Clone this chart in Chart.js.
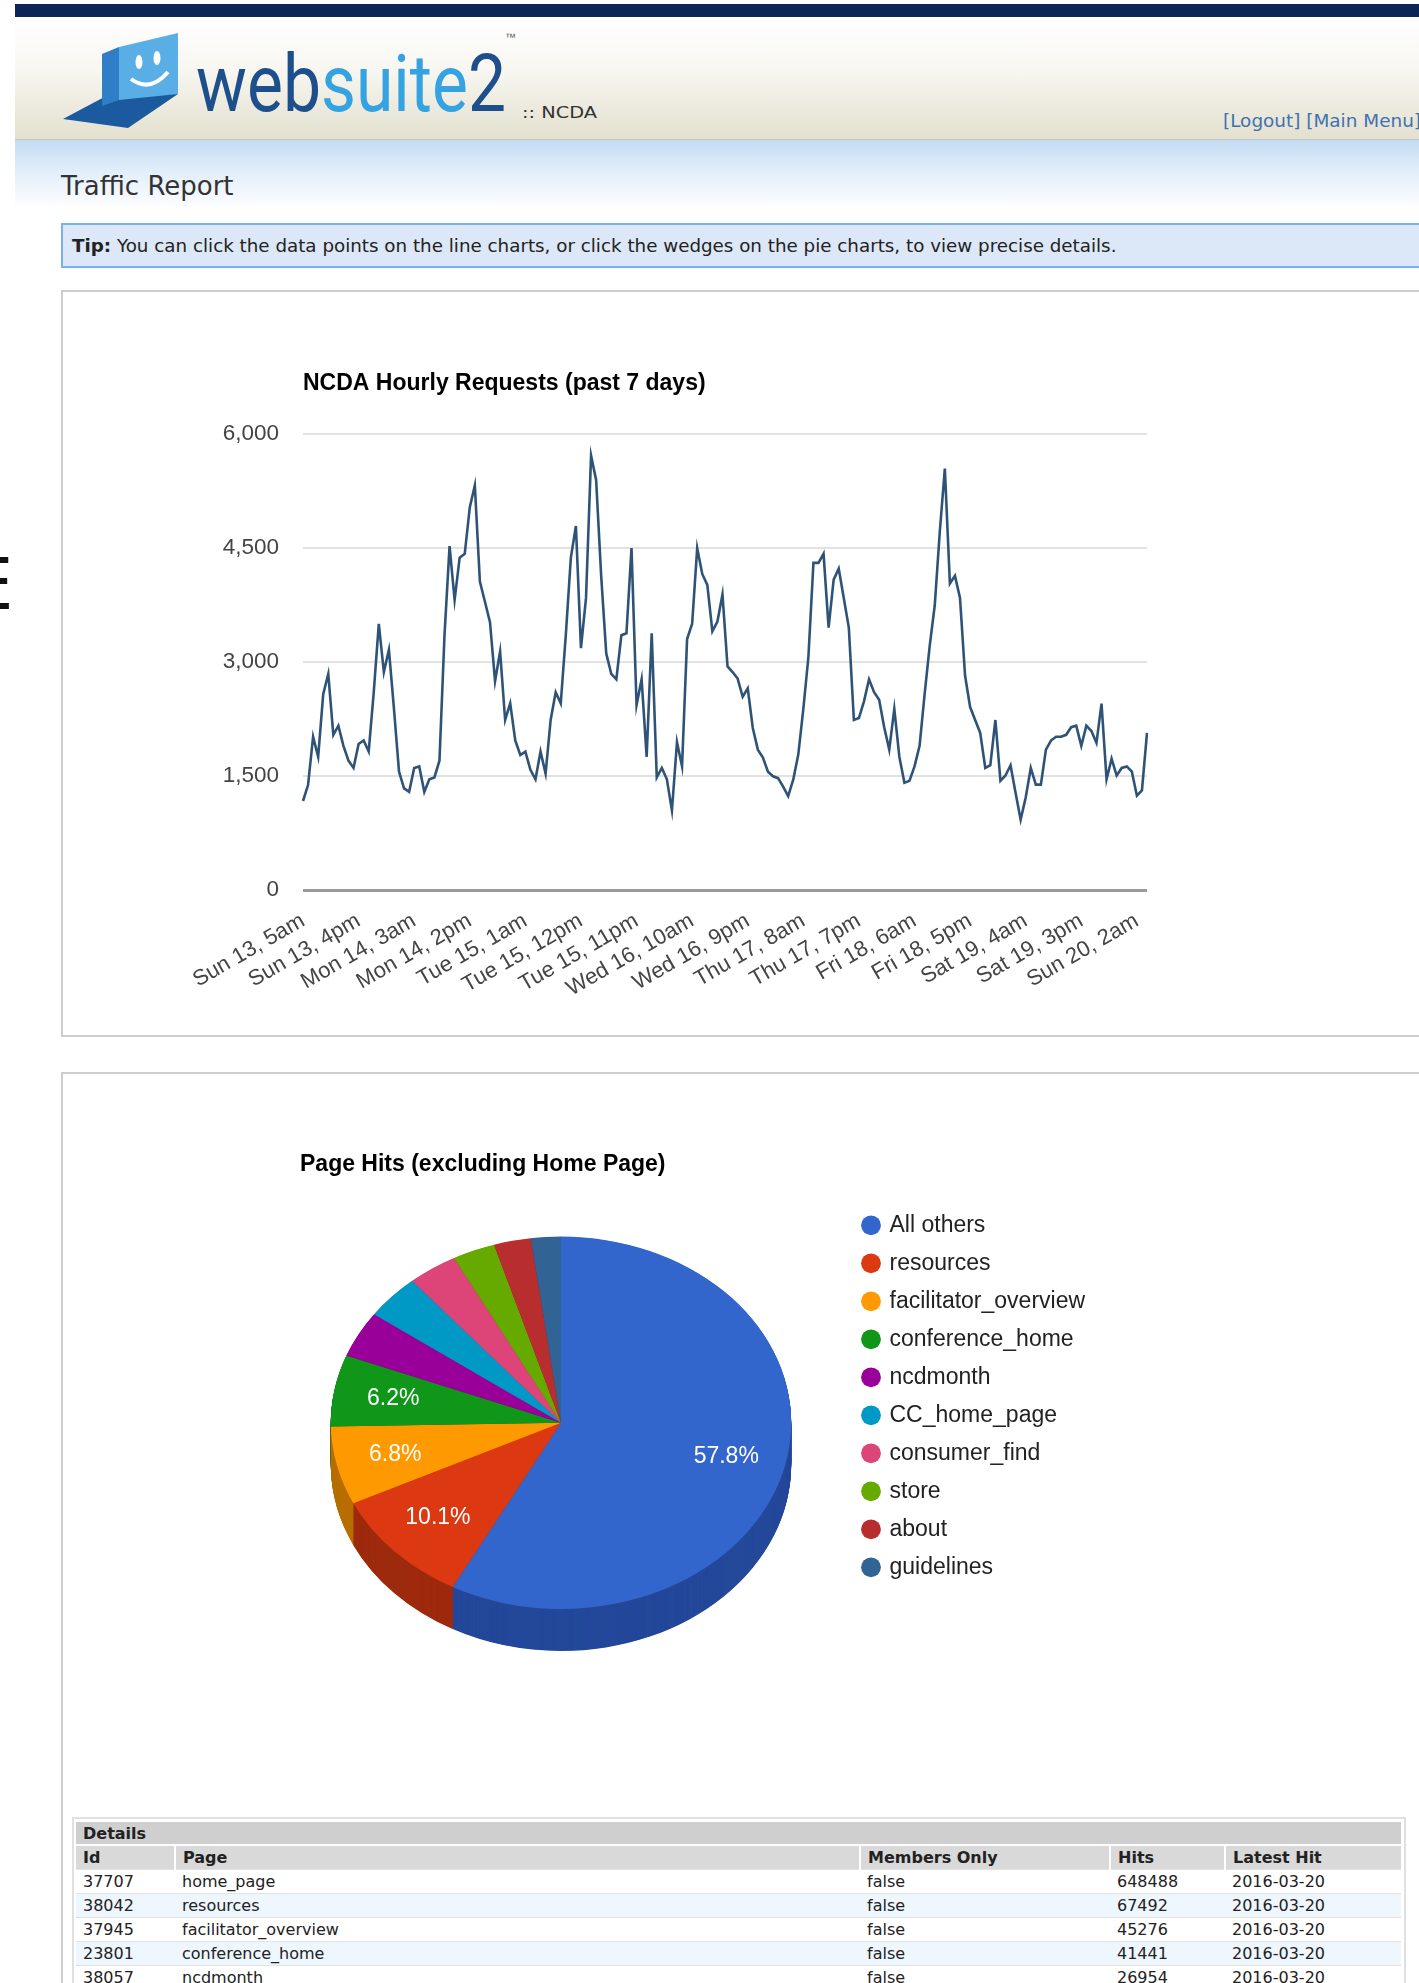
<!DOCTYPE html>
<html>
<head>
<meta charset="utf-8">
<title>Traffic Report</title>
<script src="https://cdn.jsdelivr.net/npm/chart.js@4.4.1/dist/chart.umd.min.js"></script>
<style>
  html, body { margin: 0; padding: 0; }
  body { width: 1419px; height: 1983px; overflow: hidden; position: relative; background: #fff;
         font-family: "DejaVu Sans", Verdana, sans-serif; color: #222; }
  .abs { position: absolute; }
  #topbar { left: 15px; top: 4px; width: 1404px; height: 13px; background: #0b2557; }
  #header { left: 15px; top: 17px; width: 1404px; height: 122px;
            background: linear-gradient(#ffffff 0%, #f7f6f0 45%, #e3e0cf 100%); border-bottom: 1px solid #c3c6c6; }
  #band { left: 15px; top: 140px; width: 1404px; height: 70px;
          background: linear-gradient(#c3dbf2 0%, #e2eefa 45%, #ffffff 100%); }
  #edge { left: -32px; top: 548px; font-size: 72px; line-height: 72px; color: #111; }
  #pageTitle { left: 61px; top: 172px; font-size: 26px; line-height: 28px; color: #333; }
  #tip { left: 61px; top: 223px; width: 1400px; height: 45px; box-sizing: border-box; border: 2px solid #78b2ea;
         background: #dce8f7; font-size: 18.3px; line-height: 41px; padding-left: 9px; white-space: nowrap; }
  .panel { left: 61px; width: 1400px; box-sizing: border-box; border: 2px solid #cdcdcd; background: #fff; }
  #linePanel { top: 290px; height: 747px; }
  #piePanel { top: 1072px; height: 1000px; }
  #lineChart { left: 100px; top: 350px; }
  #pieChart { left: 300px; top: 1140px; }
  #tableBox { left: 72px; top: 1817px; width: 1334px; height: 200px; box-sizing: border-box;
              border: 2px solid #e0e0e0; border-bottom: none; padding: 3px 3px 0 2px; }
  table { width: 1325px; border-collapse: collapse; table-layout: fixed; font-size: 16px; }
  td, th { height: 23px; padding: 0 7px; text-align: left; white-space: nowrap; overflow: hidden; }
  tr.cap td { background: #cfcfcf; height: 22px; font-weight: bold; }
  tr.head th { background: #d9d9d9; font-weight: bold; border-top: 2px solid #fff; border-left: 2px solid #fff; }
  tr.head th:first-child { border-left: none; }
  tr.row td { border-top: 1px solid #e2e2e2; background: #fff; }
  tr.alt td { background: #eef6fe; }
</style>
</head>
<body>
<div id="topbar" class="abs"></div>
<div id="header" class="abs"></div>
<div id="band" class="abs"></div>
<svg class="abs" style="left:0;top:0" width="1419" height="140">
  <polygon points="63,119 110,94 178,94 128,128" fill="#1b5a9e"/>
  <polygon points="102,54 119,47 119,100 102,106" fill="#2f7fc8"/>
  <polygon points="119,47 178,33 178,94 119,100" fill="#5aaee6"/>
  <ellipse cx="139" cy="62" rx="3.5" ry="7" fill="#fff"/>
  <ellipse cx="157" cy="58" rx="3.5" ry="7" fill="#fff"/>
  <path d="M131 79 Q150 93 168 72" stroke="#fff" stroke-width="4" fill="none"/>
  <text x="196" y="111" font-family="'Liberation Sans Narrow', Roboto, Arial, sans-serif" font-size="80"
        textLength="310" lengthAdjust="spacingAndGlyphs"><tspan fill="#1d4f8c">web</tspan><tspan fill="#35a2e2">suite</tspan><tspan fill="#1d4f8c">2</tspan></text>
  <text x="505" y="41" font-family="Arial, sans-serif" font-size="11" fill="#555">™</text>
  <text x="522" y="118" font-family="'DejaVu Sans', sans-serif" font-size="16" fill="#333"
        textLength="75" lengthAdjust="spacingAndGlyphs">:: NCDA</text>
  <text x="1223" y="127" font-family="'DejaVu Sans', sans-serif" font-size="17" fill="#3f72b0"
        textLength="198" lengthAdjust="spacingAndGlyphs">[Logout] [Main Menu]</text>
</svg>
<div id="edge" class="abs">E</div>
<div id="pageTitle" class="abs">Traffic Report</div>
<div id="tip" class="abs"><b>Tip:</b> You can click the data points on the line charts, or click the wedges on the pie charts, to view precise details.</div>
<div id="linePanel" class="abs panel"></div>
<div id="piePanel" class="abs panel"></div>
<canvas id="lineChart" class="abs" width="1100" height="660"></canvas>
<canvas id="pieChart" class="abs" width="789" height="513"></canvas>
<div id="tableBox" class="abs">
  <table>
    <colgroup><col style="width:99px"><col style="width:685px"><col style="width:250px"><col style="width:115px"><col style="width:176px"></colgroup>
    <tr class="cap"><td colspan="5">Details</td></tr>
    <tr class="head"><th>Id</th><th>Page</th><th>Members Only</th><th>Hits</th><th>Latest Hit</th></tr>
    <tr class="row"><td>37707</td><td>home_page</td><td>false</td><td>648488</td><td>2016-03-20</td></tr>
    <tr class="row alt"><td>38042</td><td>resources</td><td>false</td><td>67492</td><td>2016-03-20</td></tr>
    <tr class="row"><td>37945</td><td>facilitator_overview</td><td>false</td><td>45276</td><td>2016-03-20</td></tr>
    <tr class="row alt"><td>23801</td><td>conference_home</td><td>false</td><td>41441</td><td>2016-03-20</td></tr>
    <tr class="row"><td>38057</td><td>ncdmonth</td><td>false</td><td>26954</td><td>2016-03-20</td></tr>
  </table>
</div>
<script>
// hourly requests, Sun 13 5am .. Sun 20 4am
const requests = [
  1170, 1380, 2015, 1750, 2575, 2840, 2040, 2160, 1895, 1700, 1605, 1920,
  1965, 1820, 2600, 3500, 2865, 3160, 2380, 1555, 1335, 1290, 1605, 1625,
  1290, 1455, 1480, 1700, 3350, 4520, 3815, 4370, 4420, 5030, 5320, 4055,
  3790, 3520, 2745, 3135, 2235, 2455, 1965, 1775, 1820, 1580, 1455, 1820,
  1530, 2235, 2600, 2455, 3350, 4370, 4785, 3180, 3840, 5710, 5390, 4130,
  3110, 2840, 2770, 3350, 3375, 4495, 2430, 2770, 1750, 3375, 1480, 1605,
  1455, 1045, 1945, 1625, 3300, 3500, 4495, 4155, 4010, 3400, 3530, 3885,
  2940, 2865, 2780, 2540, 2650, 2130, 1845, 1740, 1555, 1495, 1470, 1360,
  1235, 1450, 1780, 2380, 3060, 4300, 4300, 4420, 3450, 4080, 4225, 3840,
  3450, 2235, 2260, 2480, 2770, 2600, 2500, 2140, 1845, 2380, 1750, 1410,
  1435, 1625, 1895, 2575, 3205, 3740, 4710, 5540, 4030, 4130, 3840, 2820,
  2405, 2235, 2065, 1605, 1640, 2235, 1435, 1505, 1640, 1275, 925, 1215,
  1605, 1385, 1385, 1845, 1965, 2015, 2015, 2040, 2140, 2160, 1895, 2160,
  2090, 1935, 2450, 1455, 1725, 1505, 1605, 1625, 1555, 1240, 1310, 2065
];
const tickLabels = [
  "Sun 13, 5am", "Sun 13, 4pm", "Mon 14, 3am", "Mon 14, 2pm", "Tue 15, 1am", "Tue 15, 12pm",
  "Tue 15, 11pm", "Wed 16, 10am", "Wed 16, 9pm", "Thu 17, 8am", "Thu 17, 7pm", "Fri 18, 6am",
  "Fri 18, 5pm", "Sat 19, 4am", "Sat 19, 3pm", "Sun 20, 2am"
];
const tickStep = 11;

const pageNames = ["All others", "resources", "facilitator_overview", "conference_home", "ncdmonth",
  "CC_home_page", "consumer_find", "store", "about", "guidelines"];
const pageHits = [386200, 67492, 45276, 41441, 26954, 26000, 23400, 20000, 17400, 14000];
const sliceColors = ["#3366cc", "#dc3912", "#ff9900", "#109618", "#990099",
  "#0099c6", "#dd4477", "#66aa00", "#b82e2e", "#316395"];
const sideColors = ["#24489a", "#9e2a0d", "#b86e00", "#0c6c11", "#6e006e",
  "#006e8f", "#a03156", "#497a00", "#842121", "#23476b"];

Chart.defaults.font.family = 'Arial, "Liberation Sans", Helvetica, sans-serif';

const hourLabels = requests.map((_, i) => (i % tickStep === 0 ? tickLabels[i / tickStep] : ""));

new Chart(document.getElementById("lineChart"), {
  type: "line",
  data: {
    labels: hourLabels,
    datasets: [{
      data: requests,
      borderColor: "#2f5377",
      borderWidth: 2.6,
      pointRadius: 0,
      tension: 0,
      fill: false
    }]
  },
  options: {
    responsive: false,
    animation: false,
    events: [],
    layout: { padding: { right: 53 } },
    plugins: {
      legend: { display: false },
      tooltip: { enabled: false },
      title: {
        display: true,
        text: "NCDA Hourly Requests (past 7 days)",
        align: "start",
        fullSize: false,
        color: "#000",
        font: { size: 23, weight: "bold" },
        padding: { top: 20, bottom: 36 }
      }
    },
    scales: {
      x: {
        grid: { display: false },
        border: { display: false },
        ticks: { autoSkip: false, minRotation: 30, maxRotation: 30, padding: 10, color: "#444", font: { size: 22 } },
        afterFit: s => { s.height = 120; }
      },
      y: {
        min: 0,
        max: 6000,
        border: { display: false },
        grid: {
          drawTicks: false,
          color: c => (c.tick.value === 0 ? "#9a9a9a" : "#e2e2e2"),
          lineWidth: c => (c.tick.value === 0 ? 3 : 2)
        },
        ticks: {
          stepSize: 1500,
          padding: 24,
          color: "#444",
          font: { size: 22.5 },
          callback: v => v.toLocaleString("en-US")
        },
        afterFit: s => { s.width = 203; }
      }
    }
  }
});

// squashes the pie into an ellipse, adds the rim and the percent labels
const pie3d = {
  id: "pie3d",
  beforeDatasetsDraw(chart, args, o) {
    const arcs = chart.getDatasetMeta(0).data;
    const ctx = chart.ctx;
    const cy = arcs[0].y;
    ctx.save();
    ctx.translate(0, cy);
    ctx.scale(1, o.squash);
    ctx.translate(0, -cy);
    for (let d = o.depth; d > 0; d -= 0.5) {
      arcs.forEach((a, i) => {
        const dy = d / o.squash;
        ctx.beginPath();
        ctx.moveTo(a.x, a.y + dy);
        ctx.arc(a.x, a.y + dy, a.outerRadius, a.startAngle, a.endAngle);
        ctx.closePath();
        ctx.fillStyle = o.sideColors[i];
        ctx.fill();
      });
    }
  },
  afterDatasetsDraw(chart, args, o) {
    const ctx = chart.ctx;
    ctx.restore();
    const arcs = chart.getDatasetMeta(0).data;
    const values = chart.data.datasets[0].data;
    const total = values.reduce((t, v) => t + v, 0);
    ctx.save();
    ctx.font = "23px Arial, 'Liberation Sans', sans-serif";
    ctx.fillStyle = "#fff";
    ctx.textAlign = "center";
    ctx.textBaseline = "middle";
    arcs.forEach((a, i) => {
      const share = values[i] / total * 100;
      if (share < o.minShare) return;
      const mid = (a.startAngle + a.endAngle) / 2;
      const r = a.outerRadius * o.labelRadius;
      ctx.fillText(share.toFixed(1) + "%", a.x + r * Math.cos(mid), a.y + o.squash * r * Math.sin(mid));
    });
    ctx.restore();
  }
};

new Chart(document.getElementById("pieChart"), {
  type: "pie",
  data: {
    labels: pageNames,
    datasets: [{ data: pageHits, backgroundColor: sliceColors, borderWidth: 0, hoverOffset: 0 }]
  },
  options: {
    responsive: false,
    animation: false,
    events: [],
    layout: { padding: 0 },
    plugins: {
      tooltip: { enabled: false },
      title: {
        display: true,
        text: "Page Hits (excluding Home Page)",
        align: "start",
        color: "#000",
        font: { size: 23, weight: "bold" },
        padding: { top: 11, bottom: 14 }
      },
      legend: {
        position: "right",
        align: "start",
        fullSize: false,
        maxWidth: 240,
        title: { display: true, text: "", font: { size: 1 }, padding: { top: 2, bottom: 3 } },
        labels: {
          usePointStyle: true,
          pointStyle: "circle",
          boxWidth: 14,
          boxHeight: 14,
          padding: 15,
          color: "#222",
          font: { size: 23 }
        }
      },
      pie3d: { squash: 0.809, depth: 42, sideColors: sideColors, labelRadius: 0.74, minShare: 5 }
    },
    scales: {
      gap: {
        type: "linear",
        position: "right",
        display: true,
        grid: { display: false },
        border: { display: false },
        ticks: { display: false },
        afterFit: s => { s.width = 27; }
      }
    }
  },
  plugins: [pie3d]
});
</script>
</body>
</html>
